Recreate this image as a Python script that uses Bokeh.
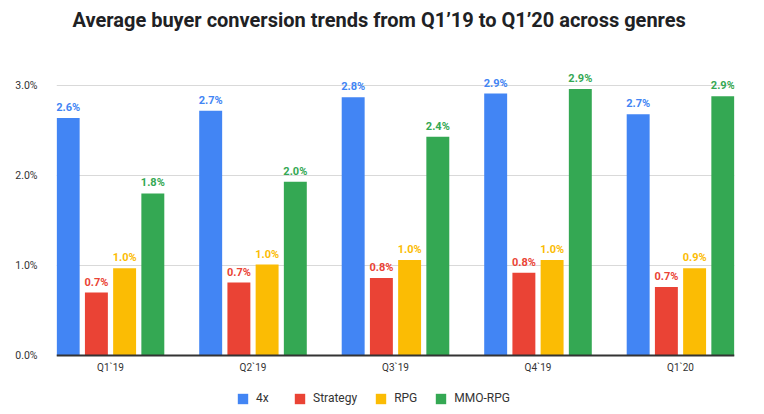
from bokeh.plotting import figure
from bokeh.models import ColumnDataSource, FixedTicker, Legend, LegendItem, Range1d
from bokeh.transform import dodge
from bokeh.core.properties import value
from bokeh.embed import file_html
from bokeh.resources import INLINE

# ---- data ----
quarters = ["Q1`19", "Q2`19", "Q3`19", "Q4`19", "Q1`20"]
series_names = ["4x", "Strategy", "RPG", "MMO-RPG"]
v_4x = [2.64, 2.72, 2.87, 2.91, 2.68]
v_strategy = [0.70, 0.81, 0.86, 0.92, 0.76]
v_rpg = [0.97, 1.01, 1.06, 1.06, 0.97]
v_mmo = [1.80, 1.93, 2.43, 2.96, 2.88]
lbl_4x = ["2.6%", "2.7%", "2.8%", "2.9%", "2.7%"]
lbl_strategy = ["0.7%", "0.7%", "0.8%", "0.8%", "0.7%"]
lbl_rpg = ["1.0%", "1.0%", "1.0%", "1.0%", "0.9%"]
lbl_mmo = ["1.8%", "2.0%", "2.4%", "2.9%", "2.9%"]
y_ticks = [0, 1, 2, 3]
y_tick_labels = ["0.0%", "1.0%", "2.0%", "3.0%"]

colors = ["#4285F4", "#EA4335", "#FBBC04", "#34A853"]
offsets = [-0.297, -0.099, 0.099, 0.297]
values_all = [v_4x, v_strategy, v_rpg, v_mmo]
labels_all = [lbl_4x, lbl_strategy, lbl_rpg, lbl_mmo]

xs = list(range(len(quarters)))

p = figure(frame_width=678, frame_height=376, output_backend="svg", toolbar_location=None,
           x_range=Range1d(-0.379, 4.379), y_range=Range1d(-0.6333, 3.5444),
           min_border_left=56, min_border_right=22, min_border_top=36,
           min_border_bottom=0)
p.title.text = "Average buyer conversion trends from Q1\u201919 to Q1\u201920 across genres"
p.title.align = "left"
p.title.offset = 16
p.title.standoff = 10
p.title.text_font = "Roboto"
p.title.text_font_size = "20px"
p.title.text_font_style = "bold"
p.title.text_color = "#202124"

items = []
for name, vals, lbls, col, off in zip(series_names, values_all, labels_all, colors, offsets):
    src = ColumnDataSource(dict(x=xs, top=vals, lbl=lbls))
    r = p.vbar(x=dodge("x", off), top="top", width=0.161, source=src,
               fill_color=col, line_color=None)
    p.text(x=dodge("x", off), y="top", text="lbl", source=src,
           text_align="center", text_baseline="bottom", y_offset=-4,
           text_font=value("Roboto"), text_font_size="11px",
           text_font_style="bold", text_color=col)
    items.append(LegendItem(label=name, renderers=[r]))

legend = Legend(items=items, orientation="horizontal", location=(180, 7),
                glyph_width=13, glyph_height=13, label_height=13,
                label_standoff=7, spacing=17,
                label_text_font="Roboto", label_text_font_size="12px",
                label_text_color="#333333", border_line_color=None,
                background_fill_alpha=0, padding=0, margin=0)
p.add_layout(legend, "center")

p.xaxis.fixed_location = 0
p.xaxis.ticker = FixedTicker(ticks=xs)
p.xaxis.major_label_overrides = {i: q for i, q in enumerate(quarters)}
p.xaxis.major_tick_line_color = None
p.xaxis.major_tick_out = 0
p.xaxis.major_tick_in = 0
p.xaxis.minor_tick_line_color = None
p.xaxis.axis_line_color = "#333333"
p.xaxis.axis_line_width = 2
p.xaxis.major_label_text_font = "Roboto"
p.xaxis.major_label_text_font_size = "10px"
p.xaxis.major_label_text_color = "#333333"
p.xaxis.major_label_standoff = 6

p.yaxis.ticker = FixedTicker(ticks=y_ticks)
p.yaxis.major_label_overrides = {t: l for t, l in zip(y_ticks, y_tick_labels)}
p.yaxis.major_tick_line_color = None
p.yaxis.major_tick_out = 0
p.yaxis.major_tick_in = 0
p.yaxis.minor_tick_line_color = None
p.yaxis.axis_line_color = None
p.yaxis.major_label_text_font = "Roboto"
p.yaxis.major_label_text_font_size = "10.5px"
p.yaxis.major_label_text_color = "#333333"
p.yaxis.major_label_standoff = 19

p.xgrid.grid_line_color = None
p.ygrid.ticker = FixedTicker(ticks=y_ticks)
p.ygrid.grid_line_color = "#d9d9d9"
p.outline_line_color = None

open("out.html", "w").write(file_html(p, INLINE))
